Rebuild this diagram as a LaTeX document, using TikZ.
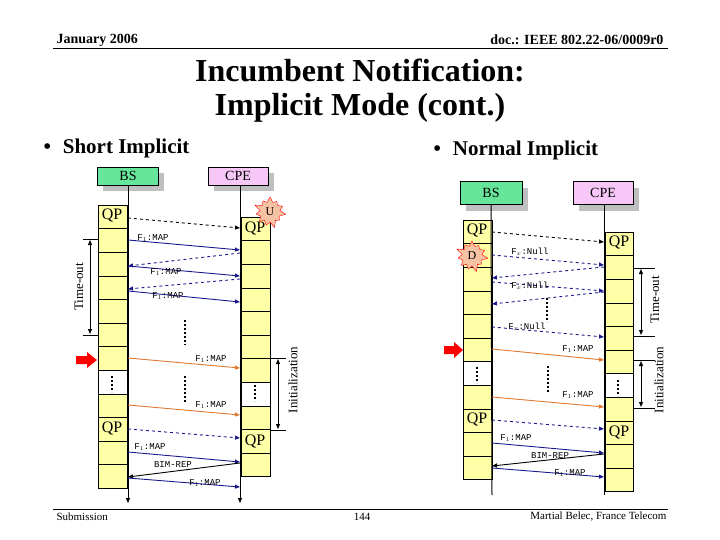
\documentclass[tikz,border=0pt]{standalone}
\usepackage{fontspec}
\setmainfont{Liberation Serif}
\newfontfamily\monof{Liberation Mono}
\usetikzlibrary{shapes.geometric,shapes.symbols,arrows.meta}
\definecolor{frm}{HTML}{FFFFA8}
\definecolor{bsg}{HTML}{66E69A}
\definecolor{cpep}{HTML}{F7C8F7}
\definecolor{navy}{HTML}{1A1A8C}
\definecolor{org}{HTML}{E07830}
\definecolor{starc}{HTML}{F6C2A4}
\tikzset{
 ent/.style={draw,minimum height=18pt,inner sep=0pt,font=\fontsize{14}{14}\selectfont},
 shad/.style={fill=black!25},
 cell/.style={draw,fill=frm},
 wcell/.style={draw,fill=white},
 qp/.style={font=\fontsize{16}{16}\selectfont,inner sep=1pt},
 msg/.style={font=\monof\fontsize{9}{9}\selectfont,inner sep=1pt},
 nv/.style={navy,-{Triangle[length=5pt,width=4pt]},line width=0.9pt},
 nvd/.style={nv,dashed},
 bk/.style={black,-{Triangle[length=5pt,width=4pt]},line width=0.9pt},
 bkd/.style={bk,dashed},
 og/.style={org,-{Triangle[length=5pt,width=4pt]},line width=0.9pt},
 dots/.style={line width=2pt,dash pattern=on 2pt off 2pt},
 span/.style={{Triangle[length=5pt,width=4pt]}-{Triangle[length=5pt,width=4pt]},line width=1pt},
 side/.style={font=\fontsize{13}{13}\selectfont,rotate=90},
 star/.style={starburst,starburst points=11,starburst point height=7pt,draw=red,fill=starc,inner sep=1pt,minimum size=34pt,font=\fontsize{12}{12}\selectfont},
 life/.style={line width=1pt,-{Triangle[length=5pt,width=4pt]}},
 redar/.style={fill=red,draw=none}
}
\begin{document}
\begin{tikzpicture}[x=1pt,y=-1pt]
\useasboundingbox (0,0) rectangle (720,540);
% header
\node[anchor=west,font=\bfseries\fontsize{14}{14}\selectfont] (hd1) at (53,40) {January 2006};
\node[anchor=east,font=\bfseries\fontsize{14}{14}\selectfont] (hd2) at (667,40) {doc.: IEEE 802.22-06/0009r0};
\draw (53,48) -- (668,48);
\node[align=center,font=\bfseries\fontsize{32}{34}\selectfont] (title) at (360,91) {Incumbent Notification:\\Implicit Mode (cont.)};
\node[anchor=west,font=\bfseries\fontsize{21}{21}\selectfont] (b1) at (40,148) {\textbullet\hspace{12pt}Short Implicit};
\node[anchor=west,font=\bfseries\fontsize{21}{21}\selectfont] (b2) at (430,150) {\textbullet\hspace{12pt}Normal Implicit};
\draw (53,509) -- (668,509);
\node[anchor=west,font=\fontsize{11}{11}\selectfont] (f1) at (53,517) {Submission};
\node[font=\fontsize{11}{11}\selectfont] (f2) at (362,517) {144};
\node[anchor=east,font=\fontsize{11}{11}\selectfont] (f3) at (670,517) {Martial Belec, France Telecom};

% ===== LEFT =====
\fill[shad] (103,173) rectangle (164,191);
\fill[shad] (214,173) rectangle (274,191);
\node[ent,fill=bsg,minimum width=61pt] (lbs) at (128,176) {BS};
\node[ent,fill=cpep,minimum width=60pt] (lcpe) at (238,176) {CPE};
\foreach \i in {0,...,11}{
  \pgfmathsetmacro\ya{205+23.6*\i}
  \pgfmathsetmacro\yb{205+23.6*(\i+1)}
  \ifnum\i=7 \draw[wcell] (98,\ya) rectangle (127,\yb); \else \draw[cell] (98,\ya) rectangle (127,\yb); \fi
}
\foreach \i in {0,...,10}{
  \pgfmathsetmacro\ya{217+23.6*\i}
  \pgfmathsetmacro\yb{217+23.6*(\i+1)}
  \ifnum\i=7 \draw[wcell] (241,\ya) rectangle (270,\yb); \else \draw[cell] (241,\ya) rectangle (270,\yb); \fi
}
\coordinate (lbe) at (128,503); \coordinate (lce) at (240,503);
\draw[life] (lbs.south) -- (lbe);
\draw[life] (240,185) -- (lce);
\node[qp] (lq1) at (112,216) {QP};
\node[qp] (lq2) at (255,229) {QP};
\node[qp] (lq3) at (112,428) {QP};
\node[qp] (lq4) at (255,441) {QP};
\draw[dots] (112,376) -- (112,392);
\draw[dots] (255,385) -- (255,401);
\node[star] (lu) at (270,212) {U};
\coordinate (la1) at (128,218); \coordinate (lb1) at (240,228);
\draw[bkd] (la1) -- (lb1);
\coordinate (la2) at (128,240); \coordinate (lb2) at (240,250);
\draw[nv] (la2) -- (lb2);
\node[msg] (lm1) at (153,238) {F$_1$:MAP};
\coordinate (lb3) at (240,253); \coordinate (la3) at (128,266);
\draw[nvd] (lb3) -- (la3);
\coordinate (lb4) at (240,276);
\draw[nv] (la3) -- (lb4);
\node[msg] (lm2) at (166,272) {F$_1$:MAP};
\coordinate (lb5) at (240,279); \coordinate (la5) at (128,289);
\draw[nvd] (lb5) -- (la5);
\coordinate (la6) at (128,291); \coordinate (lb6) at (240,302);
\draw[nv] (la6) -- (lb6);
\node[msg] (lm3) at (168,296) {F$_1$:MAP};
\draw[dots] (185,320) -- (185,345);
\coordinate (la7) at (128,358); \coordinate (lb7) at (240,368);
\draw[og] (la7) -- (lb7);
\node[msg] (lm4) at (211,359) {F$_1$:MAP};
\draw[dots] (185,376) -- (185,402);
\coordinate (la8) at (128,405); \coordinate (lb8) at (240,415);
\draw[og] (la8) -- (lb8);
\node[msg] (lm5) at (211,405) {F$_1$:MAP};
\coordinate (la9) at (128,429); \coordinate (lb9) at (240,438);
\draw[nvd] (la9) -- (lb9);
\coordinate (la10) at (128,452); \coordinate (lb10) at (240,462);
\draw[nv] (la10) -- (lb10);
\node[msg] (lm6) at (150,447) {F$_1$:MAP};
\coordinate (lb11) at (240,463); \coordinate (la11) at (128,477);
\draw[bk] (lb11) -- (la11);
\node[msg] (lm7) at (173,465) {BIM-REP};
\coordinate (la12) at (128,478); \coordinate (lb12) at (240,487);
\draw[nv] (la12) -- (lb12);
\node[msg] (lm8) at (205,483) {F$_1$:MAP};
\draw (83,239) -- (98,239); \draw (83,335) -- (98,335);
\coordinate (lt1) at (90,240); \coordinate (lt2) at (90,334);
\draw[span] (lt1) -- (lt2);
\node[side] (lto) at (79,287) {Time-out};
\draw (270,358) -- (286,358); \draw (270,430) -- (286,430);
\coordinate (li1) at (278,359); \coordinate (li2) at (278,429);
\draw[span] (li1) -- (li2);
\node[side] (lin) at (293,380) {Initialization};
\fill[redar] (76,356) -- (87,356) -- (87,352) -- (97,360) -- (87,368) -- (87,364) -- (76,364) -- cycle;

% ===== RIGHT =====
\fill[shad] (466,188) rectangle (528,211);
\fill[shad] (579,188) rectangle (639,211);
\node[ent,fill=bsg,minimum width=62pt,minimum height=23pt] (rbs) at (491,193) {BS};
\node[ent,fill=cpep,minimum width=60pt,minimum height=23pt] (rcpe) at (603,193) {CPE};
\foreach \i in {0,...,10}{
  \pgfmathsetmacro\ya{220+23.6*\i}
  \pgfmathsetmacro\yb{220+23.6*(\i+1)}
  \ifnum\i=6 \draw[wcell] (463,\ya) rectangle (492,\yb); \else \draw[cell] (463,\ya) rectangle (492,\yb); \fi
}
\foreach \i in {0,...,10}{
  \pgfmathsetmacro\ya{232+23.6*\i}
  \pgfmathsetmacro\yb{232+23.6*(\i+1)}
  \ifnum\i=6 \draw[wcell] (605,\ya) rectangle (633,\yb); \else \draw[cell] (605,\ya) rectangle (633,\yb); \fi
}
\draw[line width=1pt] (rbs.south) -- (492,495);
\draw[line width=1pt] (604,205) -- (604,495);
\node[qp] (rq1) at (477,231) {QP};
\node[qp] (rq2) at (619,243) {QP};
\node[qp] (rq3) at (477,419) {QP};
\node[qp] (rq4) at (619,432) {QP};
\draw[dots] (477,367) -- (477,383);
\draw[dots] (618,380) -- (618,396);
\node[star] (rd) at (472,256) {D};
\coordinate (ra1) at (492,232); \coordinate (rb1) at (604,242);
\draw[bkd] (ra1) -- (rb1);
\coordinate (ra2) at (492,255); \coordinate (rb2) at (604,265);
\draw[nvd] (ra2) -- (rb2);
\node[msg] (rm1) at (530,252) {F$_x$:Null};
\coordinate (rb3) at (604,267); \coordinate (ra3) at (492,278);
\draw[nvd] (rb3) -- (ra3);
\coordinate (ra4) at (492,282); \coordinate (rb4) at (604,291);
\draw[nvd] (ra4) -- (rb4);
\node[msg] (rm2) at (530,286) {F$_x$:Null};
\coordinate (rb5) at (604,292); \coordinate (ra5) at (492,304);
\draw[nvd] (rb5) -- (ra5);
\draw[dots] (547,298) -- (547,322);
\coordinate (ra6) at (492,327); \coordinate (rb6) at (604,337);
\draw[nvd] (ra6) -- (rb6);
\node[msg] (rm3) at (527,327) {F$_x$:Null};
\coordinate (ra7) at (492,349); \coordinate (rb7) at (604,360);
\draw[og] (ra7) -- (rb7);
\node[msg] (rm4) at (578,349) {F$_1$:MAP};
\draw[dots] (548,366) -- (548,392);
\coordinate (ra8) at (492,397); \coordinate (rb8) at (604,407);
\draw[og] (ra8) -- (rb8);
\node[msg] (rm5) at (578,395) {F$_1$:MAP};
\coordinate (ra9) at (492,420); \coordinate (rb9) at (604,429);
\draw[nvd] (ra9) -- (rb9);
\coordinate (ra10) at (492,443); \coordinate (rb10) at (604,453);
\draw[nv] (ra10) -- (rb10);
\node[msg] (rm6) at (516,438) {F$_1$:MAP};
\coordinate (rb11) at (604,454); \coordinate (ra11) at (492,466);
\draw[bk] (rb11) -- (ra11);
\node[msg] (rm7) at (550,456) {BIM-REP};
\coordinate (ra12) at (492,468); \coordinate (rb12) at (604,477);
\draw[nv] (ra12) -- (rb12);
\node[msg] (rm8) at (570,473) {F$_1$:MAP};
\draw (633,268) -- (655,268); \draw (633,336) -- (655,336);
\coordinate (rt1) at (641,269); \coordinate (rt2) at (641,335);
\draw[span] (rt1) -- (rt2);
\node[side] (rto) at (655,300) {Time-out};
\draw (633,360) -- (655,360); \draw (633,408) -- (655,408);
\coordinate (ri1) at (641,361); \coordinate (ri2) at (641,407);
\draw[span] (ri1) -- (ri2);
\node[side] (rin) at (659,380) {Initialization};
\fill[redar] (444,346) -- (454,346) -- (454,342) -- (463,350) -- (454,358) -- (454,354) -- (444,354) -- cycle;
\end{tikzpicture}
\end{document}
